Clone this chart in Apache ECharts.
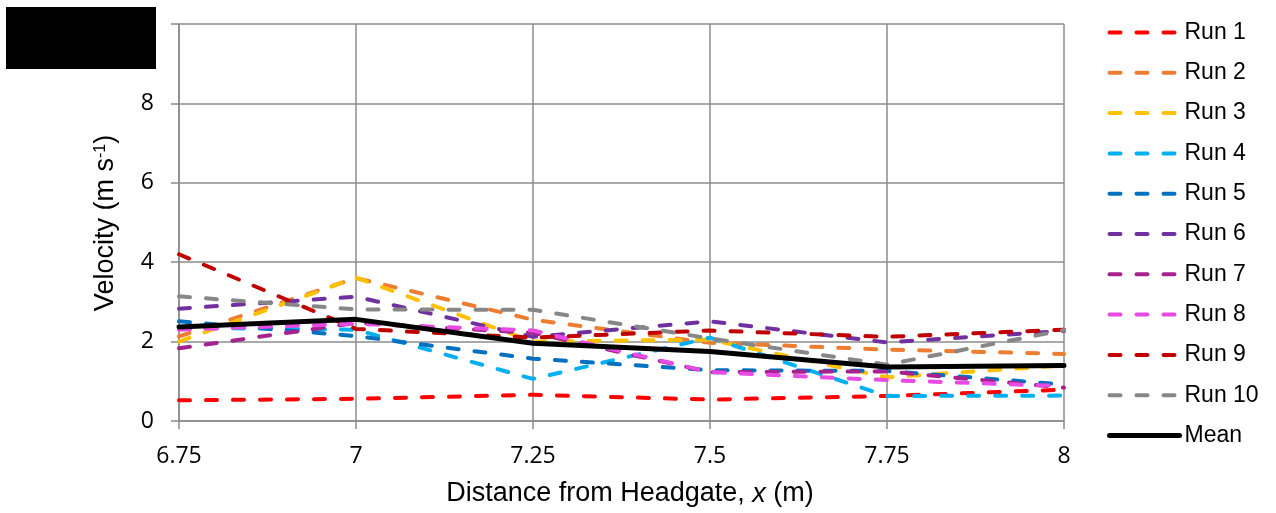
<!DOCTYPE html>
<html>
<head>
<meta charset="utf-8">
<script src="https://cdn.jsdelivr.net/npm/echarts@6/dist/echarts.min.js"></script>
<style>
html,body{margin:0;padding:0;background:#fff;}
#chart{width:1276px;height:513px;}
</style>
</head>
<body>
<div id="chart"></div>
<script>
var xValues = [6.75, 7, 7.25, 7.5, 7.75, 8];
var seriesNames = ['Run 1','Run 2','Run 3','Run 4','Run 5','Run 6','Run 7','Run 8','Run 9','Run 10','Mean'];
var run1  = [0.52, 0.56, 0.66, 0.54, 0.63, 0.79];
var run2  = [2.13, 3.60, 2.55, 1.97, 1.80, 1.69];
var run3  = [2.00, 3.61, 2.00, 2.05, 1.10, 1.40];
var run4  = [2.35, 2.30, 1.06, 2.10, 0.63, 0.64];
var run5  = [2.51, 2.14, 1.57, 1.28, 1.26, 0.92];
var run6  = [2.83, 3.13, 2.12, 2.51, 1.98, 2.27];
var run7  = [1.83, 2.47, 2.22, 1.23, 1.25, 0.84];
var run8  = [2.30, 2.45, 2.28, 1.23, 1.03, 0.88];
var run9  = [4.20, 2.32, 2.10, 2.28, 2.12, 2.30];
var run10 = [3.14, 2.81, 2.80, 2.08, 1.42, 2.29];
var mean  = [2.37, 2.56, 1.96, 1.75, 1.36, 1.40];
var yTicks = [0, 2, 4, 6, 8, 10];

var colors = ['#FF0000','#ED7D31','#FFC000','#00B0F0','#0070C0','#7030A0','#A5228F','#E84BE3','#C00000','#878787','#000000'];
var allData = [run1, run2, run3, run4, run5, run6, run7, run8, run9, run10, mean];
var dashStyle = { width: 4, type: [11, 16], cap: 'round' };
var meanStyle = { width: 5, type: 'solid', cap: 'round', join: 'round' };

var series = allData.map(function (vals, i) {
  var isMean = i === 10;
  var ls = Object.assign({ color: colors[i] }, isMean ? meanStyle : dashStyle);
  return {
    name: seriesNames[i],
    type: 'line',
    data: vals.map(function (v, j) { return [xValues[j], v]; }),
    symbol: 'none',
    silent: true,
    animation: false,
    z: 2 + i,
    lineStyle: ls,
    itemStyle: { color: colors[i] }
  };
});

var chart = echarts.init(document.getElementById('chart'), null, { renderer: 'canvas' });
var gridColor = '#8c8c8c';
chart.setOption({
  animation: false,
  backgroundColor: '#ffffff',
  grid: { left: 179, right: 212, top: 24, bottom: 92, containLabel: false },
  xAxis: {
    type: 'value', min: 6.75, max: 8, interval: 0.25,
    axisLine: { show: true, lineStyle: { color: gridColor, width: 1.5 } },
    axisTick: { show: true, length: 8, lineStyle: { color: gridColor, width: 1.5 } },
    splitLine: { show: true, lineStyle: { color: gridColor, width: 1.5 } },
    axisLabel: { color: '#000', fontFamily: 'Open Sans', fontSize: 23, margin: 24 }
  },
  yAxis: {
    type: 'value', min: yTicks[0], max: yTicks[yTicks.length - 1], interval: 2,
    axisLine: { show: true, lineStyle: { color: gridColor, width: 1.5 } },
    axisTick: { show: true, length: 8, lineStyle: { color: gridColor, width: 1.5 } },
    splitLine: { show: true, lineStyle: { color: gridColor, width: 1.5 } },
    axisLabel: {
      color: '#000', fontFamily: 'Open Sans', fontSize: 23, margin: 25,
      formatter: function (v) { return v === 10 ? '' : String(v); }
    }
  },
  legend: {
    orient: 'vertical', left: 1102, top: 16,
    itemWidth: 70, itemHeight: 14, itemGap: 17.3,
    textStyle: { fontFamily: 'Liberation Sans', fontSize: 23, color: '#000', lineHeight: 23 },
    itemStyle: { opacity: 0 },
    data: seriesNames.map(function (n, i) {
      var ls = Object.assign({ color: colors[i] }, i === 10 ? meanStyle : dashStyle);
      return { name: n, lineStyle: ls, itemStyle: { opacity: 0 } };
    })
  },
  graphic: [
    { type: 'rect', left: 6, top: 7, shape: { width: 150, height: 62 }, style: { fill: '#000' }, z: 100 },
    {
      type: 'text', x: 630, y: 494, z: 100,
      style: {
        text: '{a|Distance from Headgate, }{i|x}{a| (m)}',
        align: 'center', verticalAlign: 'middle',
        rich: {
          a: { fontFamily: 'Liberation Sans', fontSize: 27, fill: '#000' },
          i: { fontFamily: 'Liberation Sans', fontSize: 27, fontStyle: 'italic', fill: '#000' }
        }
      }
    },
    {
      type: 'text', x: 106, y: 223, rotation: Math.PI / 2, z: 100,
      style: {
        text: '{a|Velocity (m s}{s|-1}{a|)}',
        align: 'center', verticalAlign: 'middle',
        rich: {
          a: { fontFamily: 'Liberation Sans', fontSize: 27, fill: '#000' },
          s: { fontFamily: 'Liberation Sans', fontSize: 16, fill: '#000', verticalAlign: 'top' }
        }
      }
    }
  ],
  series: series
});
</script>
</body>
</html>
